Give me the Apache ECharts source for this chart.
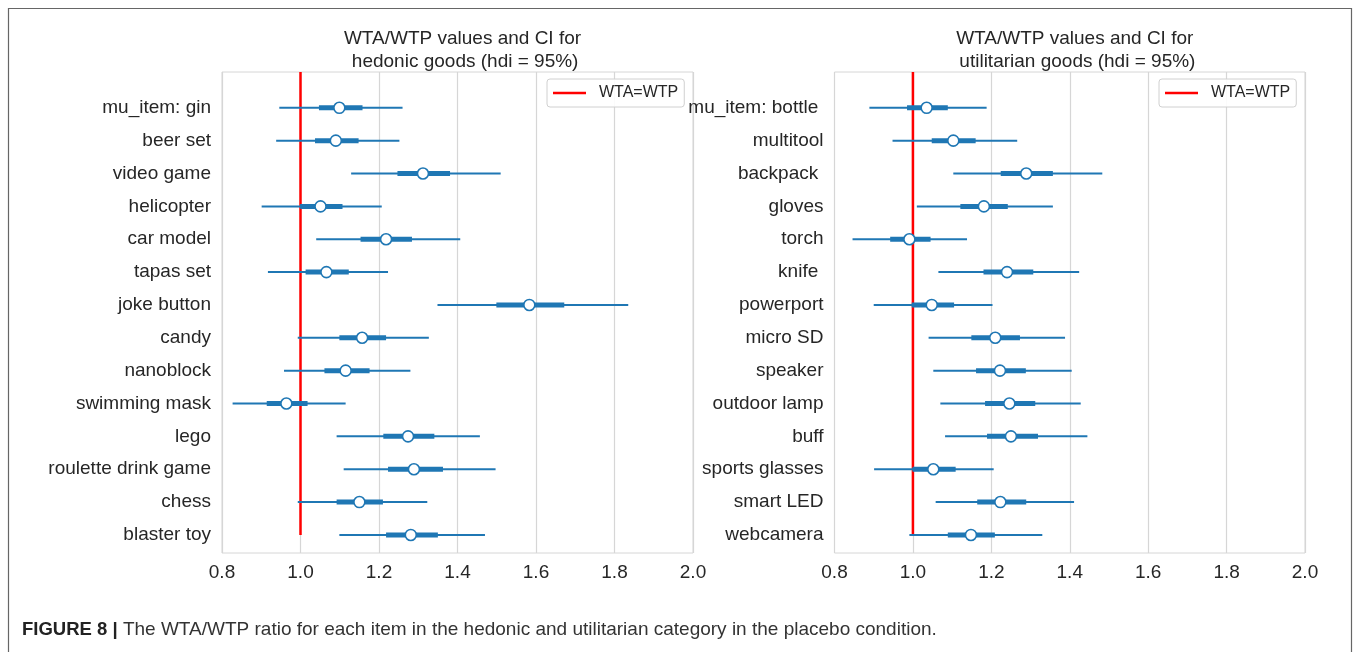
<!DOCTYPE html>
<html>
<head>
<meta charset="utf-8">
<script src="https://cdn.jsdelivr.net/npm/echarts@6/dist/echarts.min.js"></script>
<style>
html,body{margin:0;padding:0;background:#fff;}
#chart{width:1360px;height:652px;}
</style>
</head>
<body>
<div id="chart"></div>
<script>
// ---- Data ----
const hedonicItems = ['mu_item: gin','beer set','video game','helicopter','car model','tapas set','joke button','candy','nanoblock','swimming mask','lego','roulette drink game','chess','blaster toy'];
const hedonicMean    = [1.099,1.090,1.312,1.051,1.218,1.066,1.583,1.157,1.115,0.964,1.274,1.289,1.150,1.281];
const hedonicHdiLow  = [0.946,0.938,1.129,0.901,1.040,0.917,1.349,0.993,0.958,0.827,1.092,1.110,0.993,1.099];
const hedonicHdiHigh = [1.260,1.252,1.510,1.207,1.407,1.223,1.835,1.327,1.280,1.115,1.457,1.497,1.323,1.470];
const hedonicIqrLow  = [1.047,1.037,1.247,0.999,1.153,1.013,1.499,1.099,1.061,0.914,1.211,1.223,1.092,1.218];
const hedonicIqrHigh = [1.158,1.148,1.381,1.107,1.284,1.123,1.672,1.218,1.176,1.018,1.341,1.363,1.210,1.350];

const utilitarianItems = ['mu_item: bottle ','multitool','backpack ','gloves','torch','knife ','powerport','micro SD','speaker','outdoor lamp','buff','sports glasses','smart LED','webcamera'];
const utilMean    = [1.035,1.103,1.289,1.181,0.991,1.240,1.048,1.210,1.222,1.246,1.250,1.052,1.223,1.148];
const utilHdiLow  = [0.889,0.948,1.103,1.010,0.846,1.065,0.900,1.040,1.052,1.070,1.082,0.901,1.058,0.991];
const utilHdiHigh = [1.188,1.266,1.483,1.357,1.138,1.424,1.203,1.388,1.405,1.428,1.445,1.206,1.411,1.330];
const utilIqrLow  = [0.985,1.048,1.224,1.121,0.942,1.180,0.997,1.149,1.161,1.184,1.189,0.999,1.164,1.089];
const utilIqrHigh = [1.089,1.160,1.357,1.242,1.045,1.307,1.105,1.273,1.288,1.312,1.319,1.109,1.289,1.209];

const xTicks = [0.8, 1.0, 1.2, 1.4, 1.6, 1.8, 2.0];
const wtaEqualsWtp = 1.0;
const titles = ['WTA/WTP values and CI for\n hedonic goods (hdi = 95%)', 'WTA/WTP values and CI for\n utilitarian goods (hdi = 95%)'];
const legendLabel = 'WTA=WTP';
const captionBold = 'FIGURE 8 |';
const captionText = ' The WTA/WTP ratio for each item in the hedonic and utilitarian category in the placebo condition.';

// ---- Layout ----
const FONT = "'Liberation Sans', Arial, sans-serif";
const TXT = '#262626';
const BLUE = '#1f77b4';
const Y_MIN = -1.09, Y_MAX = 13.55;
const grids = [
  {left: 222, top: 72, width: 471, height: 481},
  {left: 834.5, top: 72, width: 470.5, height: 481}
];

function rangeRender(width) {
  return function (params, api) {
    const y = api.value(2);
    const p1 = api.coord([api.value(0), y]);
    const p2 = api.coord([api.value(1), y]);
    return {
      type: 'line',
      shape: {x1: p1[0], y1: p1[1], x2: p2[0], y2: p2[1]},
      style: {stroke: BLUE, lineWidth: width, lineCap: 'butt'}
    };
  };
}

const panels = [
  {items: hedonicItems, mean: hedonicMean, hl: hedonicHdiLow, hh: hedonicHdiHigh, il: hedonicIqrLow, ih: hedonicIqrHigh},
  {items: utilitarianItems, mean: utilMean, hl: utilHdiLow, hh: utilHdiHigh, il: utilIqrLow, ih: utilIqrHigh}
];

const option = {
  animation: false,
  backgroundColor: '#fff',
  title: [
    ...panels.map((p, k) => ({
      text: titles[k],
      left: grids[k].left + grids[k].width / 2,
      top: 22,
      textAlign: 'center',
      textStyle: {fontFamily: FONT, fontSize: 19, fontWeight: 'normal', color: TXT, lineHeight: 23}
    })),
    {
      text: '{b|' + captionBold + '}{r|' + captionText + '}',
      left: 22,
      top: 620,
      padding: 0,
      textStyle: {
        fontWeight: 'normal',
        fontFamily: FONT,
        fontSize: 19,
        rich: {
          b: {fontFamily: FONT, fontSize: 18.5, fontWeight: 'bold', color: '#222'},
          r: {fontFamily: FONT, fontSize: 19, fontWeight: 'normal', color: '#333'}
        }
      }
    }
  ],
  legend: grids.map((g, k) => ({
    data: [{name: legendLabel, icon: 'rect'}],
    left: k === 0 ? 547 : 1159,
    top: 79,
    orient: 'horizontal',
    selectedMode: false,
    padding: [6, 6, 6, 6],
    itemWidth: 33,
    itemHeight: 2.5,
    backgroundColor: 'rgba(255,255,255,0.9)',
    borderColor: '#d0d0d0',
    borderWidth: 1,
    borderRadius: 3,
    textStyle: {fontFamily: FONT, fontSize: 16, color: TXT, padding: [0, 0, 0, 8], lineHeight: 16}
  })),
  graphic: [{
    type: 'rect',
    shape: {x: 8.5, y: 8.5, width: 1343, height: 700},
    style: {fill: 'none', stroke: '#666', lineWidth: 1.2},
    silent: true
  }],
  grid: grids.map(g => Object.assign({show: true, borderColor: '#d6d6d6', borderWidth: 1, backgroundColor: 'transparent'}, g)),
  xAxis: grids.map((g, k) => ({
    type: 'value',
    gridIndex: k,
    min: xTicks[0],
    max: xTicks[xTicks.length - 1],
    interval: 0.2,
    axisLine: {show: false},
    axisTick: {show: false},
    splitLine: {show: true, lineStyle: {color: '#d6d6d6', width: 1.2}},
    axisLabel: {fontFamily: FONT, fontSize: 19, color: TXT, margin: 10, formatter: v => v.toFixed(1)}
  })),
  yAxis: panels.map((p, k) => ({
    type: 'value',
    gridIndex: k,
    inverse: true,
    min: Y_MIN,
    max: Y_MAX,
    axisLine: {show: false},
    axisTick: {show: false},
    splitLine: {show: false},
    axisLabel: {
      fontFamily: FONT, fontSize: 19, color: TXT, margin: 11,
      customValues: p.items.map((_, i) => i),
      formatter: v => p.items[Math.round(v)]
    }
  })),
  series: []
};

panels.forEach((p, k) => {
  option.series.push({
    type: 'line',
    name: legendLabel,
    xAxisIndex: k, yAxisIndex: k,
    data: [[wtaEqualsWtp, p.items.length - 1], [wtaEqualsWtp, Y_MIN]],
    symbol: 'none',
    lineStyle: {color: '#ff0000', width: 2.5},
    itemStyle: {color: '#ff0000'},
    z: 2
  });
  option.series.push({
    type: 'custom',
    xAxisIndex: k, yAxisIndex: k,
    renderItem: rangeRender(2),
    encode: {x: [0, 1], y: 2},
    data: p.items.map((_, i) => [p.hl[i], p.hh[i], i]),
    z: 3
  });
  option.series.push({
    type: 'custom',
    xAxisIndex: k, yAxisIndex: k,
    renderItem: rangeRender(5),
    encode: {x: [0, 1], y: 2},
    data: p.items.map((_, i) => [p.il[i], p.ih[i], i]),
    z: 4
  });
  option.series.push({
    type: 'scatter',
    xAxisIndex: k, yAxisIndex: k,
    data: p.items.map((_, i) => [p.mean[i], i]),
    symbol: 'circle',
    symbolSize: 11,
    itemStyle: {color: '#ffffff', borderColor: BLUE, borderWidth: 1.6, opacity: 1},
    z: 5
  });
});

const chart = echarts.init(document.getElementById('chart'), null, {renderer: 'canvas'});
chart.setOption(option);
</script>
</body>
</html>
